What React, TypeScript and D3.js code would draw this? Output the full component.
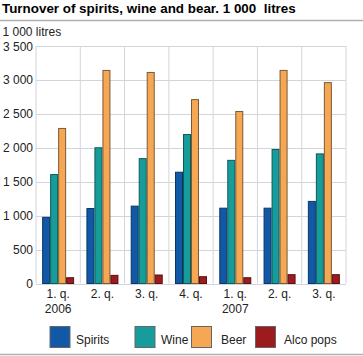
import React from "react";
import * as d3 from "d3";

const categories = ["1. q.|2006", "2. q.", "3. q.", "4. q.", "1. q.|2007", "2. q.", "3. q."];
const seriesNames = ["Spirits", "Wine", "Beer", "Alco pops"];
const spirits = [975, 1105, 1140, 1640, 1110, 1110, 1210];
const wine = [1605, 2000, 1840, 2195, 1815, 1975, 1910];
const beer = [2285, 3140, 3110, 2710, 2535, 3140, 2960];
const alcoPops = [85, 120, 125, 100, 85, 130, 130];
const yTicks = [0, 500, 1000, 1500, 2000, 2500, 3000, 3500];
const colors = ["#1159a7", "#169d9b", "#f5a754", "#9c1b1f"];
const strokes = ["#0b3563", "#0d5a58", "#7a5a35", "#5a1012"];

const fmt = (v: number) => (v >= 1000 ? `${Math.floor(v / 1000)} ${String(v % 1000).padStart(3, "0")}` : String(v));

export default function App() {
  const W = 363, H = 356;
  const left = 36, right = 346, top = 46, bottom = 283.5;
  const series = [spirits, wine, beer, alcoPops];
  const x = d3.scaleBand<number>().domain(d3.range(categories.length)).range([left, right]).paddingInner(0).paddingOuter(0);
  const y = d3.scaleLinear().domain([0, 3500]).range([bottom, top]);
  const bw = 8;
  const groupW = bw * 4;
  const font = "'Liberation Sans', Arial, sans-serif";
  const legendItems = [
    { sx: 50, tx: 76 },
    { sx: 135, tx: 161 },
    { sx: 191.5, tx: 221 },
    { sx: 255.5, tx: 284 },
  ];
  return (
    <svg width={W} height={H} style={{ position: "absolute", left: 0, top: 0 }} fontFamily={font}>
      <rect width={W} height={H} fill="#fff" />
      <text x={2} y={13} fontSize={13.4} fontWeight="bold" fill="#000" style={{ whiteSpace: "pre" }}>Turnover of spirits, wine and bear. 1 000  litres</text>
      <line x1={0} x2={W} y1={20.5} y2={20.5} stroke="#b0b0b0" strokeWidth={1.5} />
      <text x={2.5} y={35.5} fontSize={12} fill="#222">1 000 litres</text>
      {yTicks.map((t) => (
        <g key={t}>
          <line x1={left} x2={right} y1={Math.round(y(t)) + 0.5} y2={Math.round(y(t)) + 0.5} stroke="#d4d4dc" strokeWidth={1} />
          <text x={33} y={y(t) + 4.5} fontSize={12} textAnchor="end" fill="#222">{fmt(t)}</text>
        </g>
      ))}
      {d3.range(categories.length + 1).map((i) => {
        const xx = i < categories.length ? x(i)! : right;
        return <line key={i} x1={xx} x2={xx} y1={top} y2={bottom} stroke="#d4d4dc" strokeWidth={1} />;
      })}
      {categories.map((c, i) => {
        const start = x(i)! + (x.bandwidth() - groupW) / 2;
        return (
          <g key={i}>
            {series.map((s, j) => (
              <rect key={j} x={start + j * bw + 0.5} y={y(s[i])} width={bw - 1} height={bottom - y(s[i])} fill={colors[j]} stroke={strokes[j]} strokeWidth={1} />
            ))}
            {c.split("|").map((line, k) => (
              <text key={k} x={x(i)! + x.bandwidth() / 2} y={298 + k * 15} fontSize={12} textAnchor="middle" fill="#222">{line}</text>
            ))}
          </g>
        );
      })}
      {seriesNames.map((n, j) => (
        <g key={n}>
          <rect x={legendItems[j].sx} y={326.5} width={20} height={21} fill={colors[j]} stroke="#666" strokeWidth={1} />
          <text x={legendItems[j].tx} y={344} fontSize={12} fill="#222">{n}</text>
        </g>
      ))}
      <line x1={0} x2={W} y1={354.5} y2={354.5} stroke="#b0b0b0" strokeWidth={1.5} />
    </svg>
  );
}
